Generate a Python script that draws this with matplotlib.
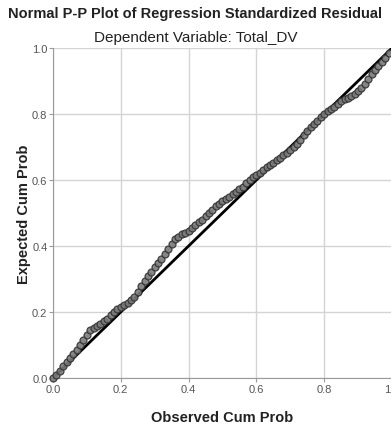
import matplotlib.pyplot as plt

# observed vs expected cumulative probabilities
observed = [0.00, 0.01, 0.02, 0.03, 0.04, 0.05, 0.06, 0.07, 0.08, 0.09,
            0.10, 0.11, 0.12, 0.13, 0.14, 0.15, 0.16, 0.17, 0.18, 0.19,
            0.20, 0.21, 0.22, 0.23, 0.24, 0.25, 0.26, 0.27, 0.28, 0.29,
            0.30, 0.31, 0.32, 0.33, 0.34, 0.35, 0.36, 0.37, 0.38, 0.39,
            0.40, 0.41, 0.42, 0.43, 0.44, 0.45, 0.46, 0.47, 0.48, 0.49,
            0.50, 0.51, 0.52, 0.53, 0.54, 0.55, 0.56, 0.57, 0.58, 0.59,
            0.60, 0.61, 0.62, 0.63, 0.64, 0.65, 0.66, 0.67, 0.68, 0.69,
            0.70, 0.71, 0.72, 0.73, 0.74, 0.75, 0.76, 0.77, 0.78, 0.79,
            0.80, 0.81, 0.82, 0.83, 0.84, 0.85, 0.86, 0.87, 0.88, 0.89,
            0.90, 0.91, 0.92, 0.93, 0.94, 0.95, 0.96, 0.97, 0.98, 0.99]
expected = [0.000, 0.010, 0.022, 0.035, 0.050, 0.060, 0.072, 0.085, 0.100, 0.115,
            0.130, 0.145, 0.152, 0.158, 0.165, 0.172, 0.180, 0.190, 0.200, 0.208,
            0.215, 0.220, 0.226, 0.235, 0.245, 0.262, 0.280, 0.295, 0.310, 0.322,
            0.335, 0.348, 0.360, 0.375, 0.390, 0.405, 0.420, 0.428, 0.435, 0.440,
            0.445, 0.455, 0.465, 0.472, 0.480, 0.490, 0.500, 0.510, 0.520, 0.528,
            0.535, 0.543, 0.550, 0.558, 0.565, 0.572, 0.580, 0.590, 0.600, 0.608,
            0.615, 0.622, 0.630, 0.638, 0.645, 0.652, 0.660, 0.668, 0.675, 0.682,
            0.690, 0.700, 0.710, 0.722, 0.735, 0.748, 0.760, 0.770, 0.780, 0.790,
            0.800, 0.808, 0.815, 0.822, 0.830, 0.838, 0.845, 0.850, 0.855, 0.862,
            0.870, 0.880, 0.890, 0.905, 0.920, 0.932, 0.945, 0.958, 0.970, 0.985]
ticks = [0.0, 0.2, 0.4, 0.6, 0.8, 1.0]
tick_labels = ['0.0', '0.2', '0.4', '0.6', '0.8', '1.0']

plt.rcParams['font.family'] = ['Liberation Sans', 'DejaVu Sans']

fig = plt.figure(figsize=(3.91, 4.27), dpi=100, facecolor='white')
ax = fig.add_axes([0.1355, 0.1124, 0.867, 0.7728])

ax.plot([0, 1], [0, 1], color='black', lw=2, zorder=2)
ax.plot(observed, expected, 'o', ms=5, mfc='#7a7a7a', mec='#333333',
        mew=0.9, alpha=0.9, zorder=3, clip_on=False)

ax.set_xlim(0, 1)
ax.set_ylim(0, 1)
ax.set_xticks(ticks)
ax.set_xticklabels(tick_labels)
ax.set_yticks(ticks)
ax.set_yticklabels(tick_labels)
ax.grid(True, color='#d4d4d4', lw=1)
ax.set_axisbelow(True)
for side in ['top', 'right']:
    ax.spines[side].set_visible(False)
for side in ['left', 'bottom']:
    ax.spines[side].set_color('#9a9a9a')
ax.tick_params(colors='#9a9a9a', labelcolor='#555555', labelsize=8,
               length=3, width=0.8, pad=1)

ax.set_xlabel('Observed Cum Prob', fontsize=10.5, fontweight='bold',
              color='#222222', labelpad=12)
ax.set_ylabel('Expected Cum Prob', fontsize=10.5, fontweight='bold',
              color='#222222')
ax.yaxis.set_label_coords(-0.065, 0.5)

fig.text(0.5, 0.968, 'Normal P-P Plot of Regression Standardized Residual',
         ha='center', va='center', fontsize=10.5, fontweight='bold',
         color='#222222')
fig.text(0.5, 0.91, 'Dependent Variable: Total_DV', ha='center', va='center',
         fontsize=11, color='#222222')

fig.savefig('out.png', dpi=100)
